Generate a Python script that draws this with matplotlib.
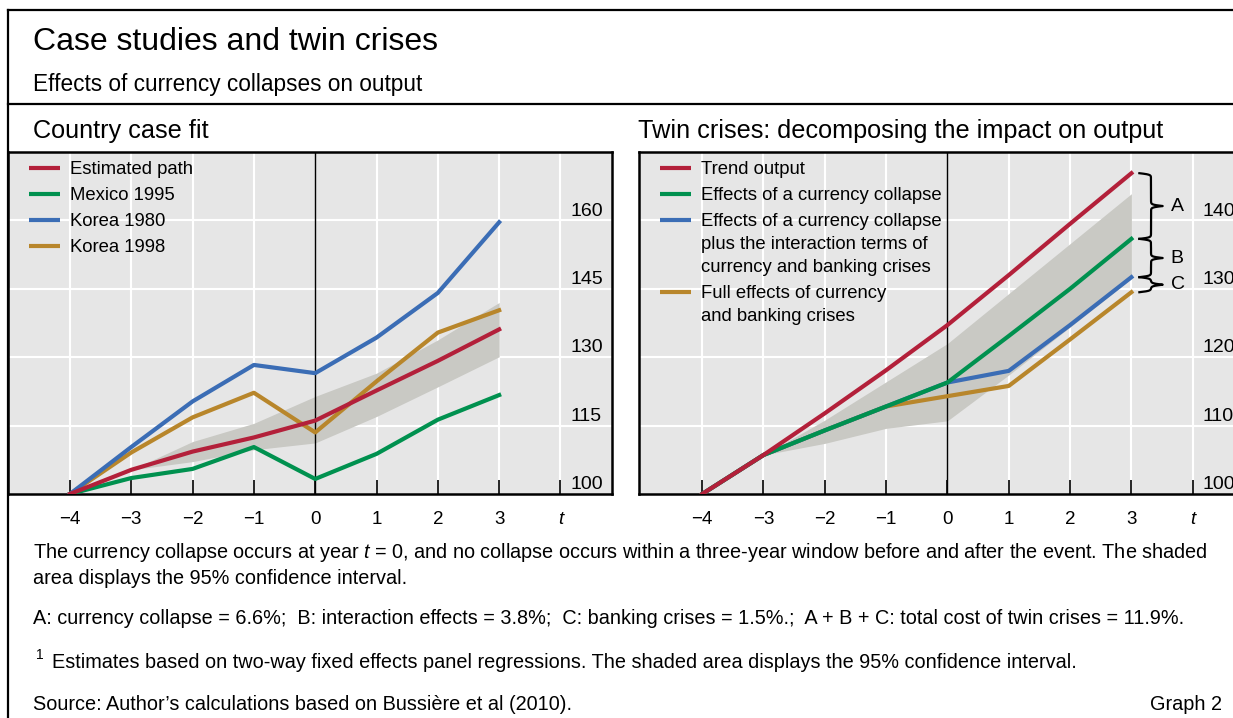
import numpy as np
import matplotlib
matplotlib.use('Agg')
import matplotlib.pyplot as plt

# Case studies and twin crises - two panels, BIS style

plt.rcParams['font.family'] = ['Liberation Sans', 'DejaVu Sans']
plt.rcParams['mathtext.fontset'] = 'custom'
plt.rcParams['mathtext.rm'] = 'Liberation Sans'
plt.rcParams['mathtext.it'] = 'Liberation Sans:italic'
plt.rcParams['text.color'] = 'black'

years = [-4, -3, -2, -1, 0, 1, 2, 3]
x_labels = ['\u22124', '\u22123', '\u22122', '\u22121', '0', '1', '2', '3', 't']

# left panel: country case fit
estimated_path = [100, 105.3, 109.3, 112.4, 116.1, 122.7, 129.2, 136.1]
mexico_1995 = [100, 103.5, 105.5, 110.3, 103.3, 108.8, 116.3, 121.7]
korea_1980 = [100, 110.3, 120.3, 128.3, 126.5, 134.3, 144.1, 159.6]
korea_1998 = [100, 109.1, 116.8, 122.2, 113.5, 124.7, 135.4, 140.3]
band_years = [-3, -2, -1, 0, 1, 2, 3]
case_lower = [105.3, 107.1, 109.7, 111.2, 117.0, 123.5, 130.1]
case_upper = [105.3, 111.5, 115.5, 121.4, 126.5, 133.8, 142.0]
case_yticks = [100, 115, 130, 145, 160]

# right panel: twin crises decomposition
trend_output = [100, 105.7, 111.8, 118.1, 124.7, 132.0, 139.5, 146.9]
currency_collapse = [100, 105.7, 109.3, 112.8, 116.3, 123.1, 130.0, 137.3]
plus_interaction = [100, 105.7, 109.3, 112.8, 116.3, 118.0, 124.7, 131.7]
full_effects = [100, 105.7, 109.3, 112.8, 114.3, 115.8, 122.6, 129.5]
twin_lower = [105.7, 107.4, 109.6, 110.7, 117.4, 124.4, 131.5]
twin_upper = [105.7, 110.8, 116.4, 122.0, 129.3, 136.6, 143.9]
twin_yticks = [100, 110, 120, 130, 140]

RED = '#b3203a'
GREEN = '#00914f'
BLUE = '#3b6db5'
GOLD = '#b8862b'
BAND = '#c9c9c4'
BG = '#e6e6e6'

W, H = 1233, 718
NOTE_FS = 14.3


def fx(px):
    return px / W


def fy(py):
    return 1 - py / H


def row(py):
    # pixel row inside the panels -> axes fraction
    return (494 - py) / (494 - 152)


def setup_panel(ax, xlim, ylim, yticks):
    ax.set_facecolor(BG)
    ax.set_xlim(*xlim)
    ax.set_ylim(*ylim)
    for x in range(-4, 5):
        if x != 0:
            ax.axvline(x, color='white', lw=1.5, zorder=0.5)
    for y in yticks[1:]:
        ax.axhline(y, color='white', lw=1.5, zorder=0.5)
    ax.axvline(0, color='black', lw=1.0, zorder=1.5)
    ax.set_xticks(range(-4, 5))
    ax.set_xticklabels(x_labels)
    ax.get_xticklabels()[-1].set_style('italic')
    ax.tick_params(axis='x', direction='in', length=10, width=1.2, pad=12,
                   labelsize=13.5)
    ax.set_yticks([])
    for s in ax.spines.values():
        s.set_linewidth(1.8)
    for y in yticks:
        ax.annotate(str(y), (4.16, y), xytext=(0, 3.5), textcoords='offset points',
                    ha='left', va='baseline', fontsize=14)


def legend_block(ax, entries):
    # entries: (label, color, pixel row of first line)
    for label, color, py in entries:
        ax.plot([0.035, 0.086], [row(py), row(py)], transform=ax.transAxes,
                color=color, lw=3, solid_capstyle='butt', clip_on=False, zorder=5)
        ax.text(0.102, row(py - 7.5), label, transform=ax.transAxes, fontsize=13.3,
                va='top', ha='left', linespacing=1.48, zorder=5)


def brace(ax, x0, y1, y2, width, beta=10):
    ym = (y1 + y2) / 2
    lo, hi = min(y1, ym), max(y1, ym)
    ys = np.linspace(lo, hi, 200)
    f = 1 / (1 + np.exp(-beta * (ys - lo))) + 1 / (1 + np.exp(-beta * (ys - hi)))
    xs_half = x0 + (f - 0.5) * width
    ys_full = np.concatenate([ys, ys + (hi - lo)])
    xs_full = np.concatenate([xs_half, xs_half[::-1]])
    ax.plot(xs_full, ys_full, color='black', lw=1.6, clip_on=False, zorder=6)


fig = plt.figure(figsize=(12.33, 7.18), dpi=100)

# left panel
ax1 = fig.add_axes([fx(8), fy(494), (612 - 8) / W, (494 - 152) / H])
setup_panel(ax1, (-5.01, 4.84), (100, 175), case_yticks)
ax1.fill_between(band_years, case_lower, case_upper, color=BAND, lw=0, zorder=1)
ax1.plot(years, mexico_1995, color=GREEN, lw=3, zorder=3)
ax1.plot(years, korea_1998, color=GOLD, lw=3, zorder=3)
ax1.plot(years, korea_1980, color=BLUE, lw=3, zorder=3)
ax1.plot(years, estimated_path, color=RED, lw=3, zorder=4)

legend_block(ax1, [
    ('Estimated path', RED, 168),
    ('Mexico 1995', GREEN, 194),
    ('Korea 1980', BLUE, 220),
    ('Korea 1998', GOLD, 246),
])

# right panel
ax2 = fig.add_axes([fx(639), fy(494), 604 / W, (494 - 152) / H])
setup_panel(ax2, (-5.03, 4.82), (100, 150), twin_yticks)
ax2.fill_between(band_years, twin_lower, twin_upper, color=BAND, lw=0, zorder=1)
ax2.plot(years, full_effects, color=GOLD, lw=3, zorder=3)
ax2.plot(years, plus_interaction, color=BLUE, lw=3, zorder=3)
ax2.plot(years, currency_collapse, color=GREEN, lw=3, zorder=3)
ax2.plot(years, trend_output, color=RED, lw=3, zorder=4)

legend_block(ax2, [
    ('Trend output', RED, 168),
    ('Effects of a currency collapse', GREEN, 194),
    ('Effects of a currency collapse\nplus the interaction terms of\ncurrency and banking crises',
     BLUE, 220),
    ('Full effects of currency\nand banking crises', GOLD, 292),
])

# braces A, B, C
ends = [trend_output[-1], currency_collapse[-1], plus_interaction[-1], full_effects[-1]]
for (top, bot), letter in zip(zip(ends[:-1], ends[1:]), ['A', 'B', 'C']):
    brace(ax2, 3.13, bot, top, 0.38)
    ax2.text(3.64, (top + bot) / 2, letter, fontsize=14, va='center', ha='left')

# frame lines
fig.add_artist(plt.Line2D([fx(8), 1], [fy(10), fy(10)], color='black', lw=1.6))
fig.add_artist(plt.Line2D([fx(8), fx(8)], [fy(10), 0], color='black', lw=1.6))
fig.add_artist(plt.Line2D([fx(8), 1], [fy(104), fy(104)], color='black', lw=1.6))

# titles
fig.text(fx(33), fy(42), 'Case studies and twin crises', fontsize=23, va='center')
fig.text(fx(33), fy(84), 'Effects of currency collapses on output', fontsize=16.3, va='center')
fig.text(fx(33), fy(131), 'Country case fit', fontsize=18.2, va='center')
fig.text(fx(638), fy(131), 'Twin crises: decomposing the impact on output', fontsize=18.2,
         va='center')

# notes
fig.text(fx(33), fy(553), 'The currency collapse occurs at year $t$ = 0, and no collapse occurs '
         'within a three-year window before and after the event. The shaded',
         fontsize=NOTE_FS, va='center')
fig.text(fx(33), fy(578), 'area displays the 95% confidence interval.', fontsize=NOTE_FS,
         va='center')
fig.text(fx(33), fy(618), 'A: currency collapse = 6.6%;  B: interaction effects = 3.8%;  '
         'C: banking crises = 1.5%.;  A + B + C: total cost of twin crises = 11.9%.',
         fontsize=NOTE_FS, va='center')
fig.text(fx(36), fy(655), '1', fontsize=10, va='center')
fig.text(fx(52), fy(662), 'Estimates based on two-way fixed effects panel regressions. '
         'The shaded area displays the 95% confidence interval.', fontsize=NOTE_FS,
         va='center')
fig.text(fx(33), fy(704), 'Source: Author\u2019s calculations based on Bussi\u00e8re et al (2010).',
         fontsize=NOTE_FS, va='center')
fig.text(fx(1222), fy(704), 'Graph 2', fontsize=NOTE_FS, va='center', ha='right')

fig.savefig('out.png', dpi=100)
